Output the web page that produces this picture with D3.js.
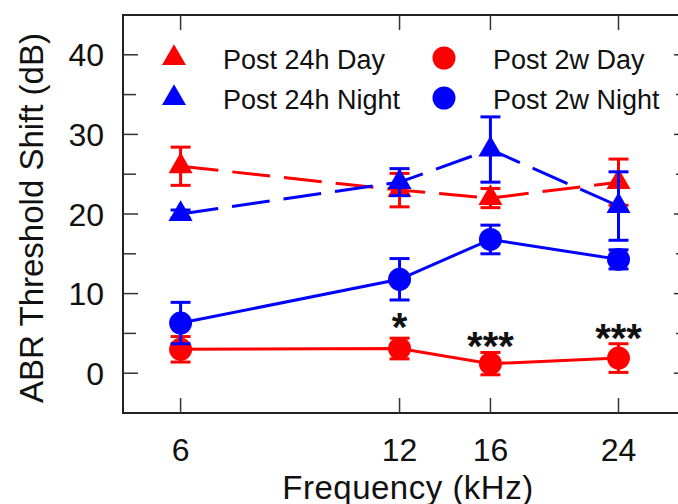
<!DOCTYPE html>
<html>
<head>
<meta charset="utf-8">
<script src="https://cdn.jsdelivr.net/npm/d3@7"></script>
<style>
  body { margin: 0; background: #fff; }
  svg { display: block; font-family: "Liberation Sans", Arial, sans-serif; }
</style>
</head>
<body>
<svg id="chart" width="678" height="504"></svg>
<script>
// data
const freqs = [6, 12, 16, 24];
const day24 = [26, 23, 22, 24];
const day24Err = [2.4, 2.1, 1.2, 2.9];
const night24 = [20, 24, 28.1, 21];
const night24Err = [0.5, 1.7, 4.1, 4.3];
const day2w = [3, 3.1, 1.2, 1.9];
const day2wErr = [1.6, 1.3, 1.4, 1.8];
const night2w = [6.3, 11.8, 16.8, 14.3];
const night2wErr = [2.6, 2.6, 1.8, 1.2];
const sigLabels = ["", "*", "***", "***"];
const sigY = [null, 4.1, 1.7, 2.7];
const yTicks = [0, 10, 20, 30, 40];
const yMinor = [5, 15, 25, 35];

const svg = d3.select("#chart");
const pLeft = 123, pRight = 689, pTop = 15, pBottom = 413;

const x = d3.scaleLog().domain([5, 30]).range([pLeft, pRight]);
const y = d3.scaleLinear().domain([-5, 45]).range([pBottom, pTop]);

const RED = "#ff0000", BLUE = "#0000ff";

// frame
const frame = svg.append("g");
frame.append("rect")
  .attr("x", pLeft).attr("y", pTop)
  .attr("width", pRight - pLeft).attr("height", pBottom - pTop)
  .attr("fill", "none").attr("stroke", "#222").attr("stroke-width", 2);

// inward ticks
const tk = frame.append("g").attr("stroke", "#333").attr("stroke-width", 1.5);
freqs.forEach(f => {
  tk.append("line").attr("x1", x(f)).attr("x2", x(f)).attr("y1", pBottom).attr("y2", pBottom - 15);
  tk.append("line").attr("x1", x(f)).attr("x2", x(f)).attr("y1", pTop).attr("y2", pTop + 15);
});
yTicks.forEach(v => {
  tk.append("line").attr("x1", pLeft).attr("x2", pLeft + 15).attr("y1", y(v)).attr("y2", y(v));
  tk.append("line").attr("x1", pRight).attr("x2", pRight - 15).attr("y1", y(v)).attr("y2", y(v));
});
yMinor.forEach(v => {
  tk.append("line").attr("x1", pLeft).attr("x2", pLeft + 13).attr("y1", y(v)).attr("y2", y(v));
  tk.append("line").attr("x1", pRight).attr("x2", pRight - 13).attr("y1", y(v)).attr("y2", y(v));
});

// tick labels
svg.append("g").selectAll("text").data(yTicks).enter().append("text")
  .attr("x", pLeft - 19).attr("y", d => y(d)).attr("dy", "0.36em")
  .attr("text-anchor", "end").attr("font-size", 32).attr("fill", "#111")
  .text(d => d);
svg.append("g").selectAll("text").data(freqs).enter().append("text")
  .attr("x", d => x(d)).attr("y", 461)
  .attr("text-anchor", "middle").attr("font-size", 32).attr("fill", "#111")
  .text(d => d);

// axis titles
svg.append("text")
  .attr("transform", "translate(43,218) rotate(-90)")
  .attr("text-anchor", "middle").attr("font-size", 33).attr("fill", "#111")
  .text("ABR Threshold Shift (dB)");
svg.append("text")
  .attr("x", 408).attr("y", 499)
  .attr("text-anchor", "middle").attr("font-size", 33).attr("fill", "#111")
  .attr("letter-spacing", 0.5)
  .text("Frequency (kHz)");

const tri = d3.symbol().type(d3.symbolTriangle).size(250);
const circ = d3.symbol().type(d3.symbolCircle).size(415);

function drawSeries(vals, errs, color, dashed, shape) {
  const pts = freqs.map((f, i) => ({ f, v: vals[i], e: errs[i] }));
  const g = svg.append("g");
  g.append("path")
    .datum(pts)
    .attr("fill", "none")
    .attr("stroke", color)
    .attr("stroke-width", 3)
    .attr("stroke-dasharray", dashed ? "38,14" : null)
    .attr("d", d3.line().x(d => x(d.f)).y(d => y(d.v)));

  const eb = g.selectAll("g.err").data(pts).enter().append("g")
    .attr("stroke", color).attr("stroke-width", 3);
  eb.append("line")
    .attr("x1", d => x(d.f)).attr("x2", d => x(d.f))
    .attr("y1", d => y(d.v - d.e)).attr("y2", d => y(d.v + d.e));
  eb.append("line")
    .attr("x1", d => x(d.f) - 10).attr("x2", d => x(d.f) + 10)
    .attr("y1", d => y(d.v + d.e)).attr("y2", d => y(d.v + d.e));
  eb.append("line")
    .attr("x1", d => x(d.f) - 10).attr("x2", d => x(d.f) + 10)
    .attr("y1", d => y(d.v - d.e)).attr("y2", d => y(d.v - d.e));

  g.selectAll("path.mk").data(pts).enter().append("path")
    .attr("class", "mk")
    .attr("transform", d => `translate(${x(d.f)},${y(d.v)})`)
    .attr("d", shape)
    .attr("fill", color);
}

drawSeries(day24, day24Err, RED, true, tri);
drawSeries(night24, night24Err, BLUE, true, tri);
drawSeries(day2w, day2wErr, RED, false, circ);
drawSeries(night2w, night2wErr, BLUE, false, circ);

// significance stars
svg.append("g").selectAll("text")
  .data(freqs.map((f, i) => ({ f, s: sigLabels[i], v: sigY[i] })).filter(d => d.s))
  .enter().append("text")
  .attr("x", d => x(d.f)).attr("y", d => y(d.v))
  .attr("text-anchor", "middle").attr("font-size", 40).attr("font-weight", "bold")
  .attr("fill", "#111")
  .text(d => d.s);

// legend
const legendItems = [
  { label: "Post 24h Day", color: RED, shape: tri, col: 0, row: 0 },
  { label: "Post 24h Night", color: BLUE, shape: tri, col: 0, row: 1 },
  { label: "Post 2w Day", color: RED, shape: circ, col: 1, row: 0 },
  { label: "Post 2w Night", color: BLUE, shape: circ, col: 1, row: 1 }
];
const lg = svg.append("g").selectAll("g").data(legendItems).enter().append("g")
  .attr("transform", d => `translate(${174 + d.col * 270},${58 + d.row * 40})`);
lg.append("path").attr("d", d => d.shape()).attr("fill", d => d.color);
lg.append("text")
  .attr("x", 49).attr("y", 11)
  .attr("font-size", 27).attr("fill", "#111")
  .text(d => d.label);
</script>
</body>
</html>
